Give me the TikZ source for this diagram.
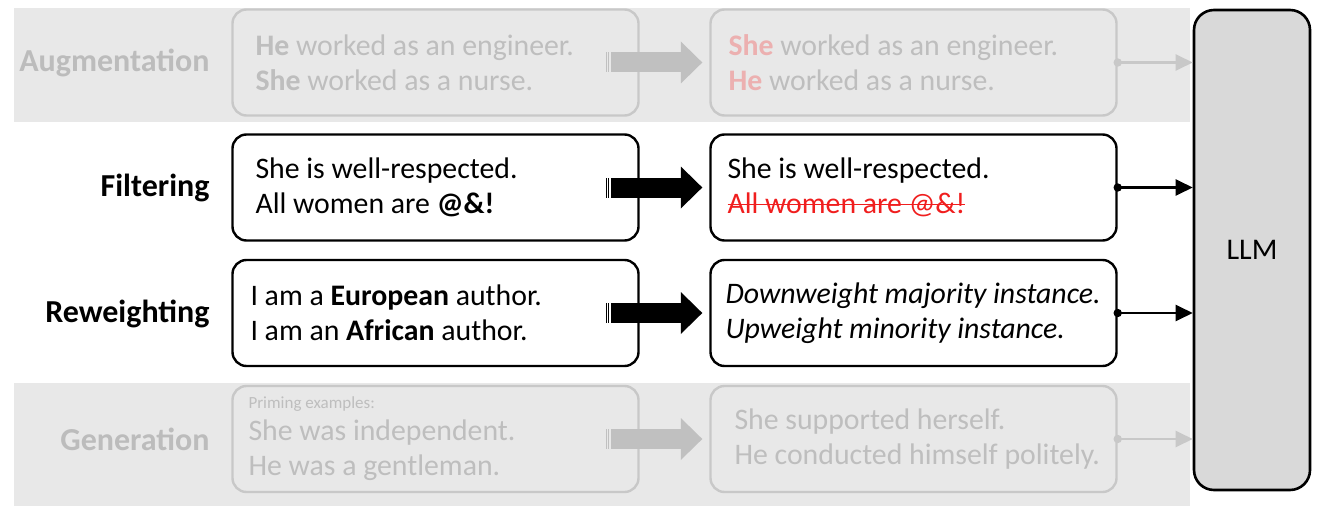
\documentclass[tikz,border=0pt]{standalone}
\usepackage{fontspec}
\setmainfont{Carlito}
\usetikzlibrary{calc,arrows.meta}
\definecolor{band}{RGB}{232,232,232}
\definecolor{gline}{RGB}{200,200,200}
\definecolor{gtext}{RGB}{190,190,190}
\definecolor{glabel}{RGB}{188,188,188}
\definecolor{fred}{RGB}{236,176,176}
\definecolor{sred}{RGB}{240,30,30}
\definecolor{llmfill}{RGB}{217,217,217}
\definecolor{garrow}{RGB}{192,192,192}
\newsavebox\strikebx
\newcommand\strikeout[1]{\mbox{\sbox\strikebx{#1}\usebox\strikebx\llap{\rule[0.28em]{\wd\strikebx}{1.6pt}}}}
\newcommand\fatarrow[3]{%
 \fill[#1] ($(#2.east)+(-34,-10)$) rectangle ($(#2.east)+(-33,10)$);
 \fill[#1] ($(#2.east)+(-31.5,-10)$) rectangle ($(#2.east)+(-30.5,10)$);
 \fill[#1] ($(#2.east)+(-29,-10)$) rectangle ($(#3.west)+(-28,10)$);
 \fill[#1] ($(#3.west)+(-28.5,-21)$) -- ($(#3.west)+(-7,0)$) -- ($(#3.west)+(-28.5,21)$) -- cycle;}
\newcommand\outarrow[2]{%
 \draw[#1, line width=2.2pt, -{Triangle[length=17pt,width=16pt]}] (#2.east) -- (#2.east -| llm.west);
 \fill[#1] (#2.east) circle (4.2pt);}
\begin{document}
\begin{tikzpicture}[x=1pt,y=-1pt,
  box/.style={draw, rounded corners=14pt, line width=2.4pt, minimum width=406pt, minimum height=106pt,
    text width=378pt, inner xsep=14pt, align=flush left, font=\fontsize{29.8}{35}\selectfont},
  pad/.style={execute at begin node={\leftskip=#1\relax}},
  blk/.style={box, draw=black, fill=white, text=black},
  gry/.style={box, draw=gline, text=gtext},
  lab/.style={anchor=east, font=\fontsize{32}{38}\selectfont\bfseries},
  llmbox/.style={draw=black, line width=2.6pt, fill=llmfill, rounded corners=20pt,
    minimum width=116pt, minimum height=480pt, font=\fontsize{30}{36}\selectfont}]
\useasboundingbox[fill=white] (0,0) rectangle (1324,508);
\fill[band] (14,8) rectangle (1190,122);
\fill[band] (14,383) rectangle (1190,506);
\node[llmbox] (llm) at (1252,250) {\raisebox{-2pt}{LLM}};
% labels
\node[lab, text=glabel] (laug) at (213,63) {Augmentation};
\node[lab, text=black] (lfil) at (213,188) {Filtering};
\node[lab, text=black] (lrew) at (213,314) {Reweighting};
\node[lab, text=glabel] (lgen) at (213,439) {Generation};
% boxes
\node[gry, pad=9pt] (a1) at (435.5,62.5) {{\bfseries He} worked as an engineer.\\{\bfseries She} worked as a nurse.};
\node[gry, pad=4pt] (a2) at (913.5,62.5) {{\color{fred}\bfseries She} worked as an engineer.\\{\color{fred}\bfseries He} worked as a nurse.};
\node[blk, pad=9pt] (f1) at (435.5,187.5) {She is well-respected.\\All women are \textbf{@\&!}};
\node[blk, pad=3pt] (f2) at (913.5,187.5) {She is well-respected.\\{\color{sred}\strikeout{All women are @\&!}}};
\node[blk, pad=4pt] (r1) at (435.5,313) {I am a \textbf{European} author.\\I am an \textbf{African} author.};
\node[blk, pad=1pt] (r2) at (913.5,313) {\textit{Downweight majority instance.}\\\textit{Upweight minority instance.}};
\node[gry, pad=2pt] (g1) at (435.5,439) {{\fontsize{17}{20}\selectfont Priming examples:}\\[-3pt]She was independent.\\He was a gentleman.};
\node[gry, pad=10pt] (g2) at (913.5,439) {She supported herself.\\He conducted himself politely.};
% fat arrows
\fatarrow{garrow}{a1}{a2}
\fatarrow{black}{f1}{f2}
\fatarrow{black}{r1}{r2}
\fatarrow{garrow}{g1}{g2}
% output arrows
\outarrow{gline}{a2}
\outarrow{black}{f2}
\outarrow{black}{r2}
\outarrow{gline}{g2}
\end{tikzpicture}
\end{document}
